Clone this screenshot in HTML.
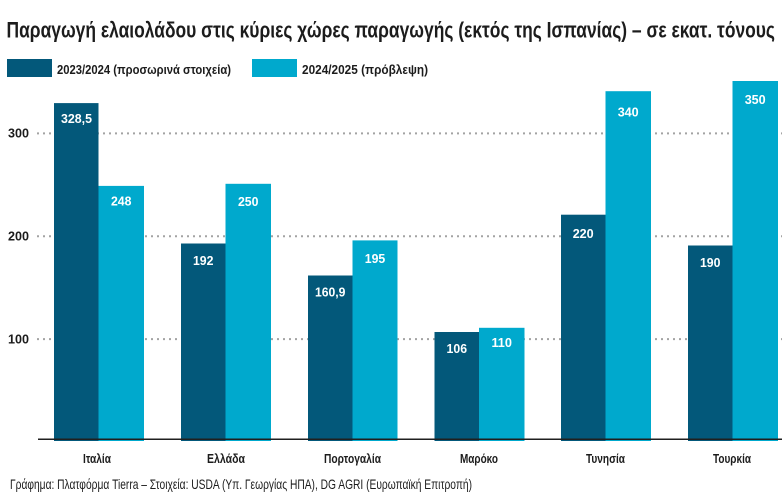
<!DOCTYPE html>
<html>
<head>
<meta charset="utf-8">
<style>
html,body{margin:0;padding:0;background:#fff;}
svg{display:block;}
text{font-family:"Liberation Sans","DejaVu Sans",sans-serif;}
</style>
</head>
<body>
<svg width="782" height="500" viewBox="0 0 782 500" xmlns="http://www.w3.org/2000/svg">
<rect width="782" height="500" fill="#fff"/>
<!-- Title -->
<text x="6.5" y="37.5" font-size="22" font-weight="bold" fill="#1c1c1c" textLength="768.5" lengthAdjust="spacingAndGlyphs">Παραγωγή ελαιολάδου στις κύριες χώρες παραγωγής (εκτός της Ισπανίας) – σε εκατ. τόνους</text>
<!-- Legend -->
<rect x="7" y="59" width="45" height="18" fill="#03587a"/>
<text x="57" y="74" font-size="13" font-weight="bold" fill="#1c1c1c" textLength="174" lengthAdjust="spacingAndGlyphs">2023/2024 (προσωρινά στοιχεία)</text>
<rect x="252" y="59" width="45" height="18" fill="#00a9cd"/>
<text x="302" y="74" font-size="13" font-weight="bold" fill="#1c1c1c" textLength="126" lengthAdjust="spacingAndGlyphs">2024/2025 (πρόβλεψη)</text>
<!-- Gridlines -->
<g stroke="#a3a3a3" stroke-width="2" stroke-dasharray="2 4">
<line x1="37" y1="133.4" x2="782" y2="133.4"/>
<line x1="37" y1="236.3" x2="782" y2="236.3"/>
<line x1="37" y1="339.1" x2="782" y2="339.1"/>
</g>
<!-- Y labels -->
<g font-size="12.5" font-weight="bold" fill="#1c1c1c">
<text x="8" y="137.7" textLength="21" lengthAdjust="spacingAndGlyphs">300</text>
<text x="8" y="240.6" textLength="21" lengthAdjust="spacingAndGlyphs">200</text>
<text x="8" y="343.4" textLength="21" lengthAdjust="spacingAndGlyphs">100</text>
</g>
<!-- Bars -->
<g fill="#03587a">
<rect x="54" y="103.1" width="44.5" height="337.9"/>
<rect x="181" y="243.5" width="44.5" height="197.5"/>
<rect x="308" y="275.5" width="44.5" height="165.5"/>
<rect x="434.5" y="332" width="44.5" height="109"/>
<rect x="561" y="214.7" width="44.5" height="226.3"/>
<rect x="688" y="245.5" width="44.5" height="195.5"/>
</g>
<g fill="#00a9cd">
<rect x="98.5" y="185.9" width="45.5" height="255.1"/>
<rect x="225.5" y="183.8" width="45.5" height="257.2"/>
<rect x="352.5" y="240.4" width="45" height="200.6"/>
<rect x="479" y="327.8" width="45.5" height="113.2"/>
<rect x="605.5" y="91.2" width="45.5" height="349.8"/>
<rect x="732.5" y="81" width="45.5" height="360"/>
</g>
<!-- Axis -->
<line x1="38" y1="439.2" x2="782" y2="439.2" stroke="#1f1f1f" stroke-width="1.5"/>
<!-- Value labels -->
<g font-size="13" font-weight="bold" fill="#fff" text-anchor="middle">
<text x="76.5" y="123.2" textLength="31" lengthAdjust="spacingAndGlyphs">328,5</text>
<text x="121.2" y="205.6" textLength="20.5" lengthAdjust="spacingAndGlyphs">248</text>
<text x="203.2" y="265" textLength="20.5" lengthAdjust="spacingAndGlyphs">192</text>
<text x="248.2" y="206" textLength="20.5" lengthAdjust="spacingAndGlyphs">250</text>
<text x="330.2" y="296.7" textLength="30.5" lengthAdjust="spacingAndGlyphs">160,9</text>
<text x="375" y="263.2" textLength="20.5" lengthAdjust="spacingAndGlyphs">195</text>
<text x="456.8" y="353.2" textLength="20.5" lengthAdjust="spacingAndGlyphs">106</text>
<text x="501.7" y="347.2" textLength="20.5" lengthAdjust="spacingAndGlyphs">110</text>
<text x="583.2" y="238.2" textLength="21" lengthAdjust="spacingAndGlyphs">220</text>
<text x="628.2" y="116.7" textLength="21" lengthAdjust="spacingAndGlyphs">340</text>
<text x="710.2" y="267.2" textLength="20.5" lengthAdjust="spacingAndGlyphs">190</text>
<text x="755.2" y="104.2" textLength="21" lengthAdjust="spacingAndGlyphs">350</text>
</g>
<!-- Category labels -->
<g font-size="13" font-weight="bold" fill="#1c1c1c" text-anchor="middle">
<text x="97" y="463" textLength="28" lengthAdjust="spacingAndGlyphs">Ιταλία</text>
<text x="226" y="463" textLength="38" lengthAdjust="spacingAndGlyphs">Ελλάδα</text>
<text x="352.5" y="463" textLength="57" lengthAdjust="spacingAndGlyphs">Πορτογαλία</text>
<text x="479" y="463" textLength="38" lengthAdjust="spacingAndGlyphs">Μαρόκο</text>
<text x="605.5" y="463" textLength="39" lengthAdjust="spacingAndGlyphs">Τυνησία</text>
<text x="732" y="463" textLength="38" lengthAdjust="spacingAndGlyphs">Τουρκία</text>
</g>
<!-- Footer -->
<text x="10" y="489" font-size="14" fill="#1c1c1c" textLength="462" lengthAdjust="spacingAndGlyphs">Γράφημα: Πλατφόρμα Tierra – Στοιχεία: USDA (Υπ. Γεωργίας ΗΠΑ), DG AGRI (Ευρωπαϊκή Επιτροπή)</text>
</svg>
</body>
</html>
